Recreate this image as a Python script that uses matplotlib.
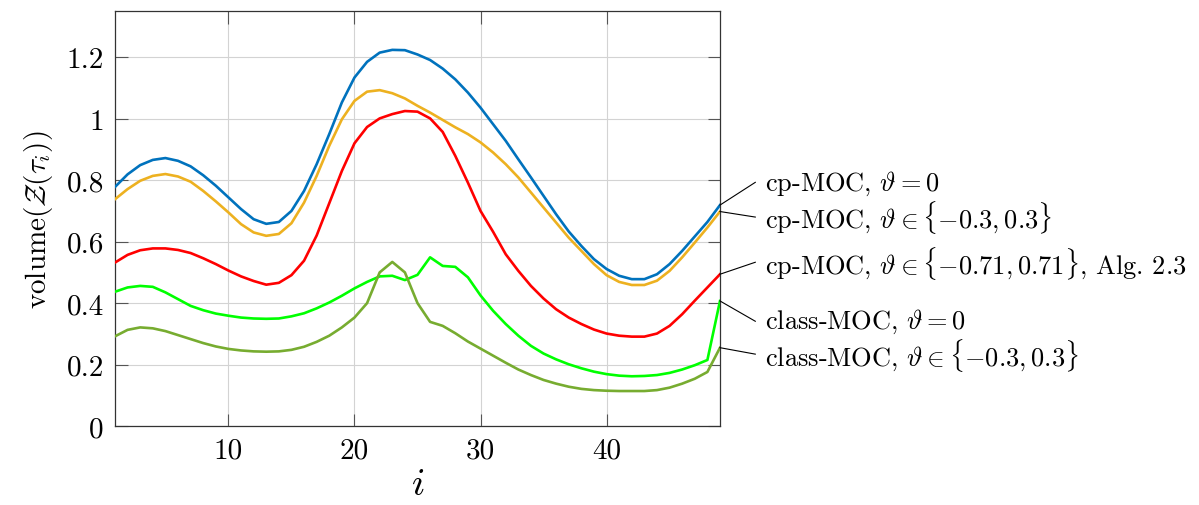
import numpy as np
import matplotlib
matplotlib.use("Agg")
import matplotlib.pyplot as plt

plt.rcParams['font.family'] = 'serif'
plt.rcParams['font.serif'] = ['cmr10']
plt.rcParams['mathtext.fontset'] = 'cm'
plt.rcParams['axes.formatter.use_mathtext'] = True
plt.rcParams['axes.unicode_minus'] = False

# data
i_vals = np.arange(1, 50)

cp_moc_0 = [0.778, 0.819, 0.849, 0.866, 0.872, 0.863, 0.845, 0.816, 0.782, 0.744,
            0.706, 0.673, 0.658, 0.664, 0.700, 0.765, 0.852, 0.950, 1.053, 1.134,
            1.185, 1.215, 1.224, 1.223, 1.209, 1.191, 1.163, 1.128, 1.085, 1.036,
            0.982, 0.928, 0.868, 0.809, 0.749, 0.689, 0.633, 0.586, 0.543, 0.511,
            0.489, 0.478, 0.478, 0.494, 0.527, 0.570, 0.617, 0.664, 0.719]
cp_moc_03 = [0.738, 0.771, 0.798, 0.814, 0.820, 0.812, 0.795, 0.765, 0.731, 0.695,
             0.657, 0.630, 0.619, 0.625, 0.660, 0.727, 0.814, 0.912, 0.998, 1.058,
             1.088, 1.093, 1.083, 1.066, 1.042, 1.020, 0.996, 0.972, 0.950, 0.923,
             0.890, 0.852, 0.809, 0.760, 0.711, 0.662, 0.613, 0.570, 0.527, 0.491,
             0.469, 0.459, 0.459, 0.473, 0.505, 0.549, 0.597, 0.646, 0.698]
cp_moc_071 = [0.532, 0.557, 0.572, 0.578, 0.578, 0.573, 0.563, 0.546, 0.527, 0.506,
              0.487, 0.472, 0.460, 0.466, 0.491, 0.538, 0.620, 0.725, 0.830, 0.920,
              0.973, 1.001, 1.015, 1.025, 1.023, 1.001, 0.957, 0.879, 0.792, 0.700,
              0.632, 0.559, 0.505, 0.456, 0.415, 0.380, 0.353, 0.332, 0.314, 0.301,
              0.294, 0.291, 0.291, 0.301, 0.326, 0.364, 0.408, 0.451, 0.494]
class_moc_0 = [0.437, 0.451, 0.456, 0.453, 0.435, 0.413, 0.391, 0.377, 0.366, 0.359,
               0.353, 0.350, 0.349, 0.350, 0.357, 0.367, 0.383, 0.402, 0.424, 0.448,
               0.469, 0.487, 0.489, 0.475, 0.492, 0.549, 0.521, 0.518, 0.484, 0.425,
               0.375, 0.332, 0.294, 0.261, 0.236, 0.217, 0.201, 0.188, 0.177, 0.169,
               0.164, 0.162, 0.163, 0.166, 0.173, 0.184, 0.198, 0.215, 0.407]
class_moc_03 = [0.292, 0.313, 0.321, 0.318, 0.309, 0.296, 0.283, 0.270, 0.259, 0.251,
                0.246, 0.243, 0.242, 0.243, 0.248, 0.258, 0.274, 0.294, 0.321, 0.353,
                0.400, 0.500, 0.534, 0.500, 0.400, 0.339, 0.326, 0.302, 0.275, 0.252,
                0.229, 0.206, 0.184, 0.166, 0.150, 0.138, 0.128, 0.121, 0.117, 0.115,
                0.114, 0.114, 0.114, 0.117, 0.125, 0.138, 0.154, 0.176, 0.255]

labels = [r'cp-MOC, $\vartheta = 0$',
          r'cp-MOC, $\vartheta \in \{-0.3, 0.3\}$',
          r'cp-MOC, $\vartheta \in \{-0.71, 0.71\}$, Alg. 2.3',
          r'class-MOC, $\vartheta = 0$',
          r'class-MOC, $\vartheta \in \{-0.3, 0.3\}$']
label_y = [0.793, 0.680, 0.533, 0.341, 0.234]
colors = ['#0072BD', '#EDB120', '#FF0000', '#00FF00', '#77AC30']

y_ticks = [0, 0.2, 0.4, 0.6, 0.8, 1.0, 1.2]
y_ticklabels = ['0', '0.2', '0.4', '0.6', '0.8', '1', '1.2']
x_ticks = [10, 20, 30, 40]

fig = plt.figure(figsize=(11.99, 5.06), dpi=100)
ax = fig.add_axes([0.0959, 0.156, 0.5046, 0.820])

series = [cp_moc_0, cp_moc_03, cp_moc_071, class_moc_0, class_moc_03]
for vals, c in zip(series, colors):
    ax.plot(i_vals, vals, color=c, lw=1.9, zorder=3)

# pin labels on the right
pin_end = 51.8
text_x = 52.6
for vals, lab, ty in zip(series, labels, label_y):
    ax.plot([i_vals[-1], pin_end], [vals[-1], ty], color='black', lw=0.8,
            clip_on=False, zorder=4)
    ax.text(text_x, ty, lab, fontsize=19, va='center', ha='left')

ax.set_xlim(1, 49)
ax.set_ylim(0, 1.35)
ax.set_xticks(x_ticks)
ax.set_xticklabels([str(t) for t in x_ticks])
ax.set_yticks(y_ticks)
ax.set_yticklabels(y_ticklabels)
ax.tick_params(direction='in', length=9, width=0.8, color='#555555',
               labelsize=21, top=True, right=True, pad=8)
ax.grid(True, color='#d3d3d3', lw=0.8)
ax.set_axisbelow(True)
for sp in ax.spines.values():
    sp.set_color('#333333')
    sp.set_linewidth(0.9)

ax.set_xlabel(r'$i$', fontsize=28, labelpad=2)
ax.set_ylabel(r'volume$(\mathcal{Z}(\tau_i))$', fontsize=21, labelpad=8)

plt.savefig('out.png', dpi=100)
